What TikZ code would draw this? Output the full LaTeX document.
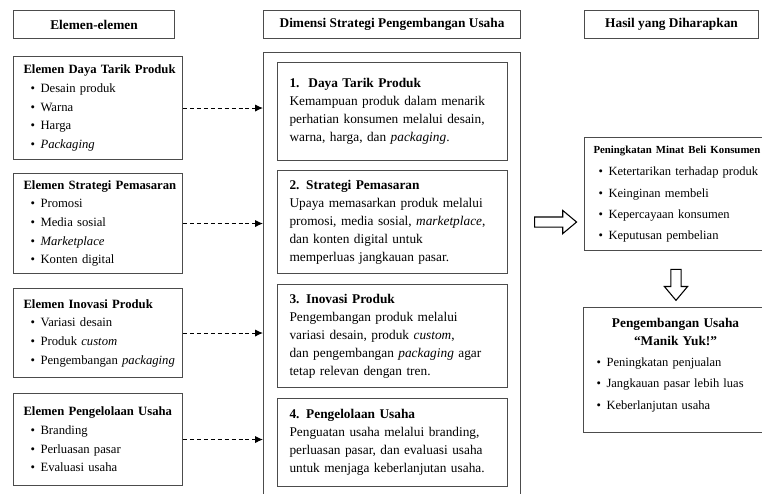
\documentclass[tikz,border=0pt]{standalone}
\usepackage{fontspec}
\setmainfont{Liberation Serif}
\usetikzlibrary{arrows.meta,shapes.arrows,calc}

% bullet line and bold heading
\newcommand{\itm}[2][5.25pt]{\mbox{\hspace*{#1}\makebox[7.5pt][l]{\textbullet}#2}}
\newcommand{\hd}[1]{\mbox{\bfseries #1}}

\tikzset{
  box/.style={draw=black!70, line width=0.8pt, anchor=north west, align=left, inner ysep=0pt},
  headbox/.style={box, align=center, inner sep=0pt, minimum height=28*0.75pt,
    font=\bfseries\fontsize{10}{12}\selectfont},
  elembox/.style={box, inner xsep=7.5pt, text width=111.75pt, font=\fontsize{9.5}{14}\selectfont},
  dimbox/.style={box, inner xsep=9pt, text width=154.5pt, font=\fontsize{10}{13.5}\selectfont},
  resbox/.style={box, inner xsep=6.75pt, text width=124.5pt, font=\fontsize{9.4}{16}\selectfont},
  link/.style={draw=black, line width=0.8pt, dash pattern=on 3pt off 2.2pt,
    -{Latex[length=6pt,width=5.5pt]}},
  bigarrow/.style={draw=black, line width=0.8pt, single arrow, inner sep=3.4pt,
    minimum width=16.5pt, single arrow head extend=4.9pt, single arrow tip angle=80}
}

\begin{document}
\begin{tikzpicture}[x=0.75pt,y=-0.75pt]
\useasboundingbox (0,0) rectangle (762,493);
\clip (0,0) rectangle (762,493);

% column headings
\node[headbox, minimum width=161*0.75pt] (hdrElemen) at (13,10) {Elemen-elemen};
\node[headbox, minimum width=257*0.75pt] (hdrDimensi) at (263,10) {Dimensi Strategi Pengembangan Usaha};
\node[headbox, minimum width=174*0.75pt] (hdrHasil) at (584,10) {Hasil yang Diharapkan};

% elements
\node[elembox, minimum height=103*0.75pt] (elDaya) at (13,56)
  {\hd{Elemen Daya Tarik Produk}\\ \itm{Desain produk}\\ \itm{Warna}\\ \itm{Harga}\\ \itm{\textit{Packaging}}};
\node[elembox, minimum height=100*0.75pt] (elStrategi) at (13,173)
  {\hd{Elemen Strategi Pemasaran}\\ \itm{Promosi}\\ \itm{Media sosial}\\ \itm{\textit{Marketplace}}\\ \itm{Konten digital}};
\node[elembox, minimum height=89*0.75pt] (elInovasi) at (13,288)
  {\hd{Elemen Inovasi Produk}\\ \itm{Variasi desain}\\ \itm{Produk \textit{custom}}\\ \itm{Pengembangan \textit{packaging}}};
\node[elembox, minimum height=92*0.75pt] (elKelola) at (13,393)
  {\hd{Elemen Pengelolaan Usaha}\\ \itm{Branding}\\ \itm{Perluasan pasar}\\ \itm{Evaluasi usaha}};

% dimensions
\node[box, inner sep=0pt, minimum width=257*0.75pt, minimum height=453*0.75pt] (dimFrame) at (263,52) {};
\node[dimbox, minimum height=98*0.75pt] (dimDaya) at (277,62)
  {\hd{1.\ \ Daya Tarik Produk}\\ Kemampuan produk dalam menarik\\ perhatian konsumen melalui desain,\\ warna, harga, dan \textit{packaging}.};
\node[dimbox, minimum height=103*0.75pt] (dimStrategi) at (277,170)
  {\hd{2. Strategi Pemasaran}\\ Upaya memasarkan produk melalui\\ promosi, media sosial, \textit{marketplace},\\ dan konten digital untuk\\ memperluas jangkauan pasar.};
\node[dimbox, minimum height=103*0.75pt] (dimInovasi) at (277,284)
  {\hd{3. Inovasi Produk}\\ Pengembangan produk melalui\\ variasi desain, produk \textit{custom},\\ dan pengembangan \textit{packaging} agar\\ tetap relevan dengan tren.};
\node[dimbox, minimum height=88*0.75pt] (dimKelola) at (277,398)
  {\hd{4. Pengelolaan Usaha}\\ Penguatan usaha melalui branding,\\ perluasan pasar, dan evaluasi usaha\\ untuk menjaga keberlanjutan usaha.};

% results
\node[resbox, minimum height=113*0.75pt] (resMinat) at (584,137)
  {{\fontsize{8.1}{10}\selectfont\hd{Peningkatan Minat Beli Konsumen}}\\[1pt]
   \itm[3.75pt]{Ketertarikan terhadap produk}\\ \itm[3.75pt]{Keinginan membeli}\\
   \itm[3.75pt]{Kepercayaan konsumen}\\ \itm[3.75pt]{Keputusan pembelian}};
\node[resbox, minimum height=125*0.75pt] (resUsaha) at (583,307)
  {\makebox[\hsize]{\bfseries\fontsize{10}{12}\selectfont Pengembangan Usaha}\\[-2.5pt]
   \makebox[\hsize]{\bfseries\fontsize{10}{12}\selectfont “Manik Yuk!”}\\
   \itm[3pt]{Peningkatan penjualan}\\ \itm[3pt]{Jangkauan pasar lebih luas}\\
   \itm[3pt]{Keberlanjutan usaha}\\[-6pt] \mbox{}};

% connectors
\foreach \e in {elDaya,elStrategi,elInovasi,elKelola}
  \draw[link] (\e.east) -- (dimFrame.west |- \e.east);
\node[bigarrow, minimum height=42*0.75pt] (toHasil)
  at ($(dimFrame.east |- dimStrategi.east)!0.5!(resMinat.west |- dimStrategi.east)$) {};
\node[bigarrow, shape border rotate=270, minimum height=31*0.75pt] (toUsaha)
  at ($(resMinat.south)!0.55!(resUsaha.north)$) {};
\end{tikzpicture}
\end{document}
